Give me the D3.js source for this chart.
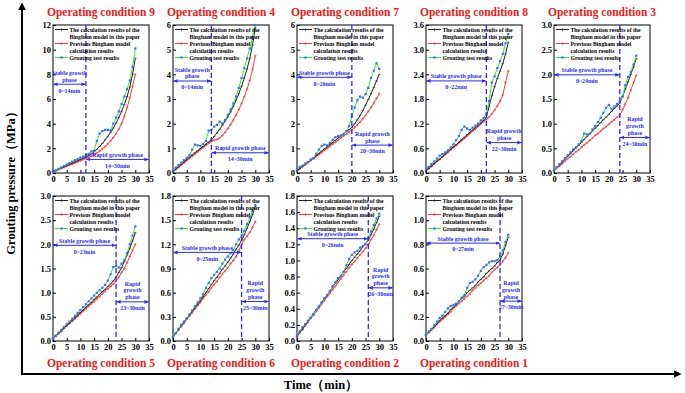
<!DOCTYPE html>
<html lang="en">
<head>
<meta charset="UTF-8">
<title>Grouting pressure under nine operating conditions</title>
<script src="https://d3js.org/d3.v7.min.js"></script>
<style>
  body { margin: 0; background: #fff; }
  svg { display: block; font-family: "Liberation Serif", "Times New Roman", serif; font-weight: bold; }
</style>
</head>
<body>
<div id="chart"></div>
<script>
// time (min)
const minutes = [0,1,2,3,4,5,6,7,8,9,10,11,12,13,14,15,16,17,18,19,20,21,22,23,24,25,26,27,28,29,30];
const xTicks = [0,5,10,15,20,25,30,35];

// condition 9
const c9Model = [0.10,0.20,0.30,0.40,0.50,0.60,0.70,0.80,0.90,1.00,1.10,1.20,1.30,1.42,1.55,1.72,1.92,2.15,2.40,2.68,2.98,3.30,3.65,4.05,4.50,5.00,5.55,6.20,6.95,8.00,9.30];
const c9Prev  = [0.10,0.19,0.28,0.37,0.46,0.55,0.64,0.73,0.82,0.91,1.00,1.09,1.18,1.28,1.38,1.50,1.63,1.78,1.95,2.14,2.36,2.60,2.88,3.20,3.56,4.00,4.60,5.30,6.10,7.00,8.00];
const c9Test  = [0.10,0.22,0.34,0.45,0.57,0.68,0.80,0.91,1.03,1.14,1.25,1.32,1.45,1.55,1.75,1.80,2.60,3.20,3.40,3.50,3.50,3.45,4.00,4.50,5.00,5.60,6.20,6.80,7.50,8.60,10.10];
const c9Ticks = [0,2,4,6,8,10,12];

// condition 4
const c4Model = [0.05,0.15,0.25,0.35,0.45,0.55,0.64,0.73,0.82,0.91,1.00,1.08,1.17,1.26,1.35,1.48,1.62,1.77,1.93,2.10,2.28,2.48,2.70,2.95,3.22,3.52,3.85,4.22,4.65,5.20,5.90];
const c4Prev  = [0.05,0.14,0.23,0.32,0.41,0.50,0.59,0.68,0.77,0.86,0.95,1.03,1.12,1.20,1.28,1.33,1.36,1.42,1.52,1.65,1.80,1.97,2.15,2.35,2.57,2.82,3.10,3.40,3.75,4.20,4.75];
const c4Test  = [0.10,0.22,0.32,0.42,0.52,0.62,0.72,0.95,1.15,1.12,1.10,1.18,1.30,1.72,1.75,1.88,1.95,2.08,2.00,2.15,2.35,2.58,2.82,3.10,3.45,3.85,4.25,4.65,5.05,5.50,6.00];
const c4Ticks = [0,1,2,3,4,5,6];

// condition 7
const c7Model = [0.10,0.18,0.27,0.36,0.45,0.54,0.62,0.71,0.80,0.89,0.98,1.06,1.15,1.24,1.33,1.42,1.50,1.59,1.68,1.76,1.85,2.00,2.15,2.33,2.53,2.75,2.98,3.22,3.47,3.73,4.00];
const c7Prev  = [0.08,0.16,0.25,0.33,0.42,0.50,0.58,0.67,0.75,0.83,0.92,1.00,1.08,1.17,1.25,1.33,1.42,1.50,1.58,1.67,1.75,1.85,1.95,2.07,2.20,2.34,2.50,2.66,2.84,3.02,3.22];
const c7Test  = [0.15,0.25,0.30,0.38,0.45,0.55,0.60,0.78,0.95,1.10,1.15,1.12,1.22,1.35,1.45,1.50,1.52,1.55,1.70,1.90,2.30,2.65,2.95,3.10,3.05,3.20,3.45,3.85,4.15,4.45,4.22];
const c7Ticks = [0,1,2,3,4,5,6];

// condition 8
const c8Model = [0.05,0.11,0.17,0.23,0.29,0.34,0.40,0.46,0.52,0.58,0.64,0.69,0.75,0.81,0.87,0.93,0.99,1.04,1.10,1.16,1.22,1.28,1.35,1.62,1.88,2.10,2.30,2.48,2.66,2.90,3.18];
const c8Prev  = [0.05,0.11,0.16,0.22,0.28,0.33,0.39,0.45,0.50,0.56,0.62,0.67,0.73,0.79,0.84,0.90,0.96,1.02,1.07,1.13,1.19,1.25,1.30,1.36,1.44,1.53,1.63,1.75,1.90,2.20,2.48];
const c8Test  = [0.10,0.15,0.22,0.28,0.35,0.42,0.46,0.50,0.55,0.62,0.70,0.80,0.90,1.05,1.13,1.08,1.05,1.10,1.15,1.20,1.28,1.33,1.45,1.75,2.20,2.35,2.55,2.72,2.90,3.15,3.38];
const c8Ticks = [0,0.6,1.2,1.8,2.4,3.0,3.6];

// condition 3
const c3Model = [0.05,0.11,0.16,0.22,0.28,0.34,0.39,0.45,0.51,0.56,0.62,0.68,0.74,0.79,0.85,0.91,0.96,1.02,1.08,1.13,1.19,1.25,1.31,1.36,1.42,1.55,1.70,1.85,2.00,2.15,2.32];
const c3Prev  = [0.05,0.10,0.14,0.19,0.24,0.29,0.33,0.38,0.43,0.47,0.52,0.57,0.61,0.66,0.71,0.76,0.80,0.85,0.90,0.94,0.99,1.04,1.08,1.13,1.18,1.28,1.40,1.53,1.68,1.83,1.98];
const c3Test  = [0.05,0.12,0.18,0.24,0.30,0.36,0.42,0.48,0.52,0.58,0.65,0.80,0.78,0.80,0.88,0.95,1.03,1.12,1.22,1.32,1.38,1.30,1.35,1.40,1.45,1.55,1.78,1.95,2.05,2.20,2.38];
const c3Ticks = [0,0.5,1.0,1.5,2.0,2.5,3.0];

// condition 5
const c5Model = [0.05,0.11,0.16,0.21,0.27,0.32,0.37,0.43,0.48,0.54,0.59,0.64,0.70,0.75,0.80,0.86,0.91,0.97,1.02,1.07,1.13,1.18,1.24,1.32,1.42,1.52,1.64,1.78,1.92,2.07,2.24];
const c5Prev  = [0.05,0.10,0.15,0.20,0.26,0.31,0.36,0.41,0.46,0.51,0.56,0.62,0.67,0.72,0.77,0.82,0.87,0.92,0.98,1.03,1.08,1.13,1.18,1.24,1.32,1.42,1.50,1.62,1.75,1.88,2.00];
const c5Test  = [0.05,0.11,0.17,0.23,0.29,0.35,0.40,0.46,0.52,0.58,0.64,0.70,0.76,0.82,0.88,0.94,1.00,1.05,1.10,1.16,1.25,1.38,1.53,1.55,1.52,1.60,1.67,1.82,2.00,2.18,2.37];
const c5Ticks = [0,0.5,1.0,1.5,2.0,2.5,3.0];

// condition 6
const c6Model = [0.05,0.10,0.14,0.19,0.23,0.28,0.32,0.37,0.41,0.46,0.50,0.55,0.60,0.65,0.70,0.75,0.79,0.84,0.89,0.93,0.98,1.03,1.08,1.14,1.19,1.25,1.32,1.40,1.48,1.57,1.67];
const c6Prev  = [0.05,0.09,0.14,0.18,0.22,0.27,0.31,0.35,0.40,0.44,0.48,0.53,0.57,0.61,0.66,0.70,0.74,0.79,0.83,0.87,0.91,0.96,1.00,1.05,1.12,1.20,1.26,1.30,1.35,1.41,1.48];
const c6Test  = [0.05,0.10,0.15,0.20,0.24,0.28,0.33,0.38,0.43,0.48,0.53,0.58,0.66,0.72,0.78,0.82,0.86,0.90,0.96,1.01,1.05,1.09,1.13,1.20,1.26,1.31,1.37,1.45,1.53,1.61,1.69];
const c6Ticks = [0,0.3,0.6,0.9,1.2,1.5,1.8];

// condition 2
const c2Model = [0.06,0.11,0.15,0.20,0.25,0.29,0.34,0.39,0.43,0.48,0.53,0.57,0.62,0.67,0.72,0.76,0.81,0.86,0.90,0.95,1.00,1.04,1.08,1.12,1.17,1.21,1.25,1.32,1.39,1.47,1.55];
const c2Prev  = [0.05,0.10,0.14,0.19,0.23,0.28,0.32,0.37,0.41,0.46,0.50,0.55,0.59,0.64,0.68,0.73,0.77,0.82,0.86,0.91,0.95,0.99,1.03,1.07,1.11,1.15,1.20,1.26,1.31,1.38,1.45];
const c2Test  = [0.07,0.12,0.17,0.21,0.25,0.29,0.33,0.38,0.43,0.48,0.53,0.57,0.62,0.68,0.73,0.78,0.80,0.86,0.94,1.02,1.07,1.10,1.12,1.16,1.18,1.20,1.28,1.36,1.44,1.52,1.58];
const c2Ticks = [0,0.2,0.4,0.6,0.8,1.0,1.2,1.4,1.6,1.8];

// condition 1
const c1Model = [0.05,0.07,0.10,0.12,0.14,0.17,0.19,0.21,0.23,0.26,0.28,0.30,0.33,0.35,0.37,0.40,0.42,0.44,0.46,0.49,0.51,0.53,0.56,0.58,0.60,0.62,0.65,0.67,0.72,0.79,0.86];
const c1Prev  = [0.05,0.07,0.09,0.11,0.14,0.16,0.18,0.20,0.22,0.24,0.27,0.29,0.31,0.33,0.35,0.37,0.39,0.42,0.44,0.46,0.48,0.50,0.52,0.54,0.57,0.59,0.61,0.63,0.66,0.69,0.73];
const c1Test  = [0.05,0.08,0.10,0.13,0.16,0.19,0.21,0.24,0.27,0.29,0.30,0.31,0.33,0.36,0.38,0.44,0.48,0.49,0.51,0.54,0.58,0.61,0.63,0.65,0.66,0.66,0.67,0.70,0.75,0.82,0.88];
const c1Ticks = [0,0.2,0.4,0.6,0.8,1.0,1.2];

const panels = [
  {title: "Operating condition 9", row: 0, col: 0, model: c9Model, prev: c9Prev, test: c9Test, ticks: c9Ticks, fmt: "d",
   split: 12, stable: ["Stable growth", "phase"], stableRange: "0~14min", stableAt: 7.2,
   rapid: ["Rapid growth phase"], rapidRange: "14~30min", rapidAt: 1.1},
  {title: "Operating condition 4", row: 0, col: 1, model: c4Model, prev: c4Prev, test: c4Test, ticks: c4Ticks, fmt: "d",
   split: 14, stable: ["Stable growth", "phase"], stableRange: "0~14min", stableAt: 3.73,
   rapid: ["Rapid growth phase"], rapidRange: "14~30min", rapidAt: 0.82},
  {title: "Operating condition 7", row: 0, col: 2, model: c7Model, prev: c7Prev, test: c7Test, ticks: c7Ticks, fmt: "d",
   split: 20, stable: ["Stable growth phase"], stableRange: "0~20min", stableAt: 3.88,
   rapid: ["Rapid growth", "phase"], rapidRange: "20~30min", rapidAt: 1.13},
  {title: "Operating condition 8", row: 0, col: 3, model: c8Model, prev: c8Prev, test: c8Test, ticks: c8Ticks, fmt: ".1f",
   split: 22, stable: ["Stable growth phase"], stableRange: "0~22min", stableAt: 2.24,
   rapid: ["Rapid growth", "phase"], rapidRange: "22~30min", rapidAt: 0.74},
  {title: "Operating condition 3", row: 0, col: 4, model: c3Model, prev: c3Prev, test: c3Test, ticks: c3Ticks, fmt: ".1f",
   split: 24, stable: ["Stable growth phase"], stableRange: "0~24min", stableAt: 1.99,
   rapid: ["Rapid", "growth", "phase"], rapidRange: "24~30min", rapidAt: 0.72},
  {title: "Operating condition 5", row: 1, col: 0, model: c5Model, prev: c5Prev, test: c5Test, ticks: c5Ticks, fmt: ".1f",
   split: 23, stable: ["Stable growth phase"], stableRange: "0~23min", stableAt: 1.98,
   rapid: ["Rapid", "growth", "phase"], rapidRange: "23~30min", rapidAt: 0.81},
  {title: "Operating condition 6", row: 1, col: 1, model: c6Model, prev: c6Prev, test: c6Test, ticks: c6Ticks, fmt: ".1f",
   split: 25, stable: ["Stable growth phase"], stableRange: "0~25min", stableAt: 1.10,
   rapid: ["Rapid", "growth", "phase"], rapidRange: "25~30min", rapidAt: 0.49},
  {title: "Operating condition 2", row: 1, col: 2, model: c2Model, prev: c2Prev, test: c2Test, ticks: c2Ticks, fmt: ".1f",
   split: 26, stable: ["Stable growth phase"], stableRange: "0~26min", stableAt: 1.27,
   rapid: ["Rapid", "growth", "phase"], rapidRange: "26~30min", rapidAt: 0.66},
  {title: "Operating condition 1", row: 1, col: 3, model: c1Model, prev: c1Prev, test: c1Test, ticks: c1Ticks, fmt: ".1f",
   split: 27, stable: ["Stable growth phase"], stableRange: "0~27min", stableAt: 0.81,
   rapid: ["Rapid", "growth", "phase"], rapidRange: "27~30min", rapidAt: 0.33}
];

const legendItems = [
  {lines: ["The calculation results of the", "Bingham model in this paper"], key: "model"},
  {lines: ["Previous Bingham model", "calculation results"], key: "prev"},
  {lines: ["Grouting test results"], key: "test"}
];

// layout
const colLeft = [53, 173, 297, 426, 554], plotW = 96;
const rowTop = [25, 196], rowBottom = [173, 341];
const blue = "#2a2aff";
const style = {
  model: {line: "#222", mark: "#222"},
  prev:  {line: "#ff3b3b", mark: "#ff3b3b"},
  test:  {line: "#2ef02e", mark: "#3c6cff"}
};

const svg = d3.select("#chart").append("svg")
  .attr("width", 685).attr("height", 393);

const defs = svg.append("defs");
defs.append("marker").attr("id", "ah")
  .attr("viewBox", "0 0 10 10").attr("refX", 9).attr("refY", 5)
  .attr("markerWidth", 4.5).attr("markerHeight", 4.5)
  .attr("orient", "auto-start-reverse")
  .append("path").attr("d", "M0,1 L10,5 L0,9 z").attr("fill", blue);
defs.append("marker").attr("id", "bigAh")
  .attr("viewBox", "0 0 10 10").attr("refX", 8).attr("refY", 5)
  .attr("markerWidth", 4).attr("markerHeight", 4)
  .attr("orient", "auto")
  .append("path").attr("d", "M0,0 L10,5 L0,10 z").attr("fill", "#000");

function drawMarks(g, vals, x, y, key) {
  const pts = g.append("g");
  if (key === "test") {
    pts.selectAll("rect").data(vals).enter().append("rect")
      .attr("x", (d, i) => x(minutes[i]) - 1.1).attr("y", d => y(d) - 1.1)
      .attr("width", 2.2).attr("height", 2.2)
      .attr("fill", style.test.mark);
  } else {
    pts.selectAll("path").data(vals).enter().append("path")
      .attr("transform", (d, i) => "translate(" + x(minutes[i]) + "," + y(d) + ")")
      .attr("d", key === "prev" ? "M-1.3,0H1.3M0,-1.3V1.3" : "M-1.2,0H1.2")
      .attr("stroke", style[key].mark).attr("stroke-width", 0.7);
  }
}

panels.forEach(p => {
  const left = colLeft[p.col], top = rowTop[p.row], bottom = rowBottom[p.row];
  const x = d3.scaleLinear().domain([0, 35]).range([left, left + plotW]);
  const y = d3.scaleLinear().domain([0, p.ticks[p.ticks.length - 1]]).range([bottom, top]);
  const g = svg.append("g");

  // axes
  const xa = g.append("g").attr("transform", "translate(0," + bottom + ")")
    .call(d3.axisBottom(x).tickValues(xTicks).tickSize(-3).tickPadding(3));
  const ya = g.append("g").attr("transform", "translate(" + left + ",0)")
    .call(d3.axisLeft(y).tickValues(p.ticks).tickSize(-3).tickPadding(2).tickFormat(d3.format(p.fmt)));
  [xa, ya].forEach(a => {
    a.attr("font-family", null).attr("font-size", 8.5);
    a.select(".domain").remove();
    a.selectAll("line").attr("stroke", "#000");
    a.selectAll("text").attr("fill", "#000");
  });
  g.append("rect").attr("x", left).attr("y", top)
    .attr("width", plotW).attr("height", bottom - top)
    .attr("fill", "none").attr("stroke", "#000").attr("stroke-width", 1);

  // curves
  const line = d3.line().x((d, i) => x(minutes[i])).y(d => y(d));
  ["prev", "model", "test"].forEach(key => {
    g.append("path").datum(p[key]).attr("d", line)
      .attr("fill", "none").attr("stroke", style[key].line).attr("stroke-width", 1);
    drawMarks(g, p[key], x, y, key);
  });

  // phase split
  g.append("line").attr("x1", x(p.split)).attr("x2", x(p.split))
    .attr("y1", top).attr("y2", bottom)
    .attr("stroke", blue).attr("stroke-width", 1.3).attr("stroke-dasharray", "5,3");

  const ann = g.append("g").attr("fill", blue).attr("font-size", 5.9).attr("text-anchor", "middle");
  function phase(x0, x1, at, lines, range) {
    const yy = y(at), cx = (x(x0) + x(x1)) / 2;
    g.append("line").attr("x1", x(x0) + 0.5).attr("x2", x(x1) - 0.5)
      .attr("y1", yy).attr("y2", yy)
      .attr("stroke", blue).attr("stroke-width", 1)
      .attr("marker-start", "url(#ah)").attr("marker-end", "url(#ah)");
    lines.forEach((t, i) => {
      ann.append("text").attr("x", cx)
        .attr("y", yy - 2.5 - (lines.length - 1 - i) * 6.9).text(t);
    });
    ann.append("text").attr("x", cx).attr("y", yy + 8.3).text(range);
  }
  phase(0, p.split, p.stableAt, p.stable, p.stableRange);
  phase(p.split, 35, p.rapidAt, p.rapid, p.rapidRange);

  // legend
  const lg = g.append("g").attr("font-size", 5.7).attr("fill", "#000");
  let row = 0;
  legendItems.forEach(item => {
    const ly = top + 4.5 + row * 7;
    lg.append("line").attr("x1", left + 2).attr("x2", left + 15)
      .attr("y1", ly).attr("y2", ly)
      .attr("stroke", style[item.key].line).attr("stroke-width", 1);
    const mx = left + 8.5;
    if (item.key === "test") {
      lg.append("rect").attr("x", mx - 1.1).attr("y", ly - 1.1)
        .attr("width", 2.2).attr("height", 2.2).attr("fill", style.test.mark);
    } else {
      lg.append("path").attr("transform", "translate(" + mx + "," + ly + ")")
        .attr("d", "M-1.3,0H1.3M0,-1.3V1.3")
        .attr("stroke", style[item.key].mark).attr("stroke-width", 0.7);
    }
    item.lines.forEach(t => {
      lg.append("text").attr("x", left + 16.5).attr("y", top + 6.5 + row * 7).text(t);
      row++;
    });
  });

  // title
  const ty = p.row === 0 ? 16 : 367;
  svg.append("text").attr("x", left + plotW / 2).attr("y", ty)
    .attr("text-anchor", "middle").attr("font-size", 11.5)
    .attr("fill", "#f01818").text(p.title);
});

// outer axes
svg.append("line").attr("x1", 22).attr("y1", 374).attr("x2", 22).attr("y2", 4)
  .attr("stroke", "#000").attr("stroke-width", 2).attr("marker-end", "url(#bigAh)");
svg.append("line").attr("x1", 21).attr("y1", 374).attr("x2", 680).attr("y2", 374)
  .attr("stroke", "#000").attr("stroke-width", 2).attr("marker-end", "url(#bigAh)");

svg.append("text").attr("transform", "translate(15,180) rotate(-90)")
  .attr("text-anchor", "middle").attr("font-size", 12.5)
  .text("Grouting pressure（MPa）");
svg.append("text").attr("x", 321).attr("y", 389)
  .attr("text-anchor", "middle").attr("font-size", 12.5)
  .text("Time（min）");
</script>
</body>
</html>
